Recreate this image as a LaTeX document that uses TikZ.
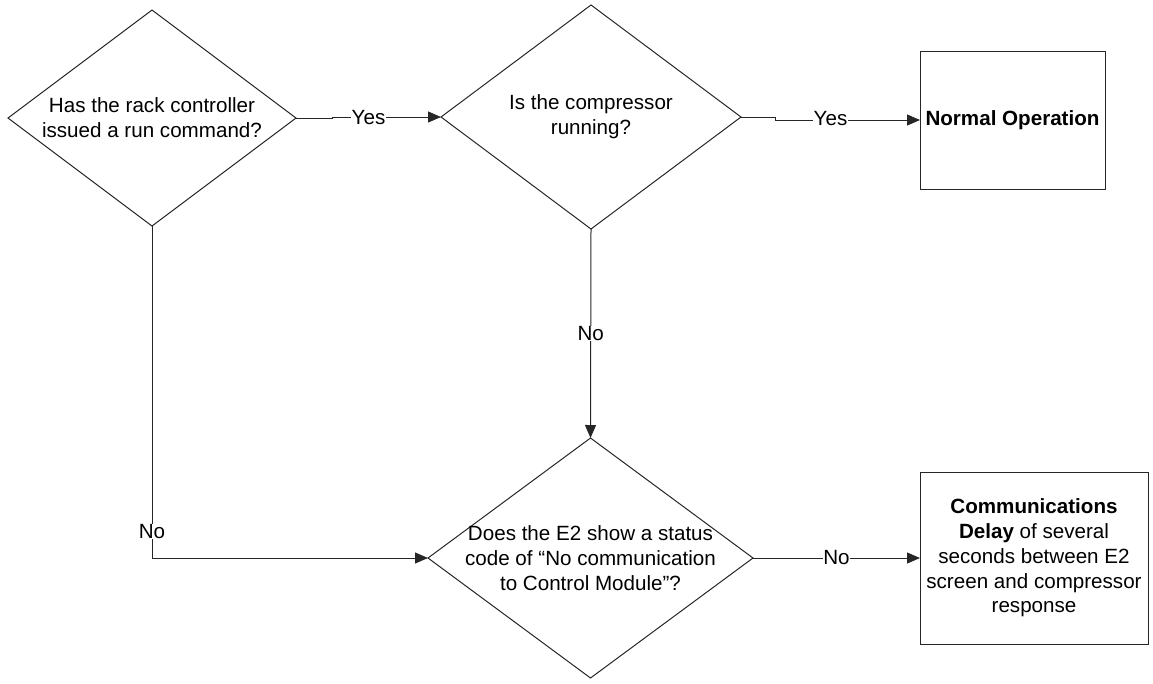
\documentclass[tikz,border=0pt]{standalone}
\usepackage{fontspec}
\setmainfont{Liberation Sans}
\usetikzlibrary{shapes.geometric,arrows.meta}
\begin{document}
\begin{tikzpicture}[x=1pt,y=-1pt,
  every node/.style={font=\fontsize{20.6}{24.8}\selectfont, text=black},
  dia/.style={draw=black!85, line width=1pt, shape=diamond, outer sep=0pt, inner sep=0pt},
  boxnode/.style={draw=black!85, line width=1pt, rectangle, outer sep=0pt, inner sep=0pt},
  txt/.style={align=center, inner sep=0pt},
  conn/.style={draw=black!85, line width=1pt, -{Triangle[length=13pt,width=11pt]}},
  lbl/.style={fill=white, inner sep=0.5pt}]
\useasboundingbox (0,0) rectangle (1153,683);
% shapes
\node[dia, minimum width=288pt, minimum height=216pt] (d1) at (152,118) {};
\node[txt] (t1) at (d1.center) {Has the rack controller\\issued a run command?};
\node[dia, minimum width=300pt, minimum height=224pt] (d2) at (591,117) {};
\node[txt] (t2) at (d2.center) {Is the compressor\\running?};
\node[dia, minimum width=325pt, minimum height=240pt] (d3) at (590.5,558) {};
\node[txt] (t3) at (d3.center) {Does the E2 show a status\\code of “No communication\\to Control Module”?};
\node[boxnode, minimum width=185pt, minimum height=138pt] (b1) at (1012.5,120) {};
\node[txt] (tb1) at (b1.center) {\bfseries Normal Operation};
\node[boxnode, minimum width=228pt, minimum height=172pt] (b2) at (1034,558) {};
\node[txt] (tb2) at (b2.center) {\textbf{Communications}\\\textbf{Delay} of several\\seconds between E2\\screen and compressor\\response};
% connectors
\draw[conn] (d1.east) -- ++(36,0) |- (d2.west);
\path (d1.east) -- (d2.west) node[lbl, midway] (y1) {Yes};
\draw[conn] (d2.east) -- ++(34,0) |- (b1.west);
\path (d2.east) -- (b1.west) node[lbl, midway] (y2) {Yes};
\draw[conn] (d2.south) -- (d3.north) node[lbl, midway] (n1) {No};
\draw[conn] (d1.south) |- node[lbl, pos=0.46] (n2) {No} (d3.west);
\draw[conn] (d3.east) -- (b2.west) node[lbl, midway] (n3) {No};
\end{tikzpicture}
\end{document}
